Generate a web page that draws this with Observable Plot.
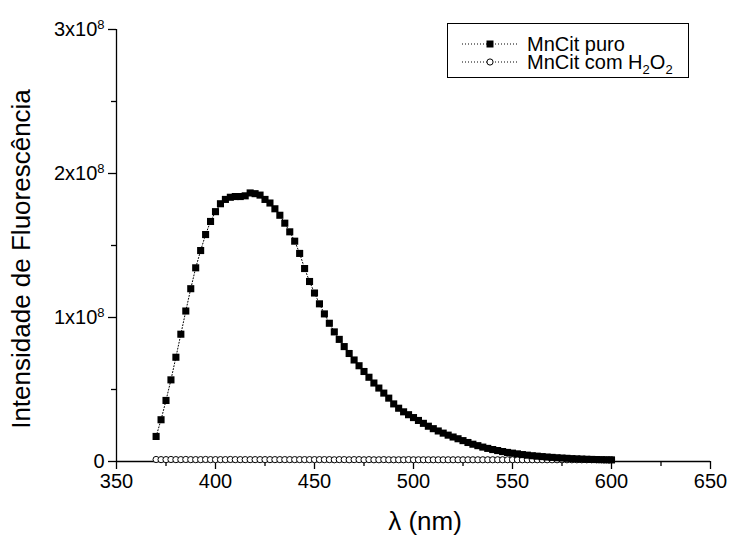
<!DOCTYPE html>
<html>
<head>
<meta charset="utf-8">
<script src="https://cdn.jsdelivr.net/npm/d3@7"></script>
<script src="https://cdn.jsdelivr.net/npm/@observablehq/plot@0.6"></script>
<style>
  html, body { margin: 0; padding: 0; background: #fff; }
  #chart { position: relative; width: 733px; height: 540px; }
</style>
</head>
<body>
<div id="chart"></div>
<script>
// wavelength (nm)
const lambda = [370, 372.5, 375, 377.5, 380, 382.5, 385, 387.5, 390, 392.5, 395, 397.5, 400, 402.5, 405, 407.5, 410, 412.5, 415, 417.5, 420, 422.5, 425, 427.5, 430, 432.5, 435, 437.5, 440, 442.5, 445, 447.5, 450, 452.5, 455, 457.5, 460, 462.5, 465, 467.5, 470, 472.5, 475, 477.5, 480, 482.5, 485, 487.5, 490, 492.5, 495, 497.5, 500, 502.5, 505, 507.5, 510, 512.5, 515, 517.5, 520, 522.5, 525, 527.5, 530, 532.5, 535, 537.5, 540, 542.5, 545, 547.5, 550, 552.5, 555, 557.5, 560, 562.5, 565, 567.5, 570, 572.5, 575, 577.5, 580, 582.5, 585, 587.5, 590, 592.5, 595, 597.5, 600];

// intensity, units of 10^6
const mncitPuro = [17.4, 29, 42.4, 56.7, 72.4, 88.4, 104.5, 120, 134.5, 146.5, 157.6, 166.7, 173.5, 179, 182, 183.5, 184, 184, 184.5, 186.5, 186, 185, 182, 179.5, 175.5, 171, 165.5, 159.5, 153, 144.5, 134, 125, 117, 109.5, 102.5, 96, 90, 84.8, 79.8, 75, 70.5, 66.5, 62.5, 58.5, 54.5, 51, 47.5, 44, 40, 37, 34.5, 32.5, 30.5, 28.5, 26.5, 24.5, 22.8, 21.2, 19.7, 18.3, 17, 15.8, 14.5, 13.2, 12, 11, 10, 9.1, 8.3, 7.6, 6.9, 6.3, 5.8, 5.3, 4.8, 4.4, 4, 3.7, 3.4, 3.1, 2.85, 2.6, 2.4, 2.2, 2.0, 1.85, 1.7, 1.55, 1.45, 1.35, 1.25, 1.15, 1.1];

const mncitH2O2 = [1.4, 1.3, 1.3, 1.4, 1.3, 1.3, 1.4, 1.3, 1.3, 1.3, 1.4, 1.3, 1.3, 1.3, 1.3, 1.4, 1.3, 1.3, 1.3, 1.3, 1.3, 1.3, 1.3, 1.3, 1.3, 1.3, 1.3, 1.3, 1.3, 1.3, 1.3, 1.3, 1.3, 1.3, 1.3, 1.3, 1.2, 1.3, 1.3, 1.2, 1.3, 1.3, 1.2, 1.3, 1.2, 1.2, 1.3, 1.2, 1.2, 1.2, 1.2, 1.3, 1.2, 1.2, 1.2, 1.2, 1.2, 1.2, 1.2, 1.2, 1.2, 1.2, 1.2, 1.2, 1.2, 1.2, 1.2, 1.2, 1.2, 1.2, 1.2, 1.2, 1.2, 1.2, 1.2, 1.2, 1.2, 1.2, 1.2, 1.2, 1.2, 1.2, 1.2, 1.2, 1.2, 1.2, 1.2, 1.2, 1.2, 1.2, 1.2, 1.2, 1.2];

const xTicks = [350, 400, 450, 500, 550, 600, 650];
const xMinorTicks = [375, 425, 475, 525, 575, 625];
const yTicks = [0, 100, 200, 300];
const yTickLabels = ["0", "1x10", "2x10", "3x10"];
const yMinorTicks = [50, 150, 250];
const seriesNames = ["MnCit puro", "MnCit com H"];

const puroData = lambda.map((l, i) => ({l, v: mncitPuro[i]}));
const h2o2Data = lambda.map((l, i) => ({l, v: mncitH2O2[i]}));

const FONT = "'Liberation Sans', Arial, Helvetica, sans-serif";

const chart = Plot.plot({
  width: 733,
  height: 540,
  marginLeft: 116,
  marginRight: 23,
  marginTop: 29,
  marginBottom: 79,
  style: {fontFamily: FONT, fontSize: "20px", color: "black", background: "white", overflow: "visible"},
  x: {domain: [350, 650]},
  y: {domain: [0, 300]},
  marks: [
    Plot.axisX({ticks: xTicks, tickSize: 8, tickPadding: 4, tickFormat: d => String(d), fontSize: 20, label: null, strokeWidth: 1.3}),
    Plot.axisX({ticks: xMinorTicks, tickSize: 5, tickFormat: () => "", label: null, strokeWidth: 1.3}),
    Plot.axisY({ticks: yTicks, tickSize: 8, tickPadding: 4, tickFormat: d => yTickLabels[yTicks.indexOf(d)], fontSize: 20, label: null, strokeWidth: 1.3}),
    Plot.axisY({ticks: yMinorTicks, tickSize: 5, tickFormat: () => "", label: null, strokeWidth: 1.3}),
    Plot.ruleX([350], {stroke: "black", strokeWidth: 1.3}),
    Plot.ruleY([0], {stroke: "black", strokeWidth: 1.3}),
    Plot.line(h2o2Data, {x: "l", y: "v", stroke: "black", strokeWidth: 1, strokeDasharray: "1,2"}),
    Plot.dot(h2o2Data, {x: "l", y: "v", symbol: "circle", r: 3.1, stroke: "black", strokeWidth: 1, fill: "white"}),
    Plot.line(puroData, {x: "l", y: "v", stroke: "black", strokeWidth: 1, strokeDasharray: "1,2"}),
    Plot.dot(puroData, {x: "l", y: "v", symbol: "square", r: 4, fill: "black", stroke: "none"})
  ]
});

document.getElementById("chart").appendChild(chart);

const svg = d3.select(chart);

// superscripts on y tick labels
svg.selectAll('g[aria-label="y-axis tick label"] text').each(function() {
  const t = d3.select(this);
  const s = t.text();
  if (s.endsWith("x10")) {
    t.append("tspan").attr("dy", "-0.55em").attr("font-size", "13px").text("8");
  }
});

// axis titles
svg.append("text")
  .attr("transform", "translate(30,259) rotate(-90)")
  .attr("text-anchor", "middle")
  .attr("font-size", 26)
  .attr("font-family", FONT)
  .attr("fill", "black")
  .text("Intensidade de Fluorescência");

svg.append("text")
  .attr("x", 425)
  .attr("y", 530)
  .attr("text-anchor", "middle")
  .attr("font-size", 26)
  .attr("font-family", FONT)
  .attr("fill", "black")
  .text("λ (nm)");

// legend
const lg = svg.append("g").attr("font-family", FONT).attr("font-size", 20).attr("text-anchor", "start");
lg.append("rect").attr("x", 447.5).attr("y", 23.5).attr("width", 241).attr("height", 54)
  .attr("fill", "white").attr("stroke", "black").attr("stroke-width", 1);
const rows = [44, 62];
rows.forEach((yy, i) => {
  lg.append("line").attr("x1", 462).attr("x2", 518).attr("y1", yy).attr("y2", yy)
    .attr("stroke", "black").attr("stroke-width", 1).attr("stroke-dasharray", "1,2");
  if (i === 0) {
    lg.append("rect").attr("x", 486.5).attr("y", yy - 3.5).attr("width", 7).attr("height", 7).attr("fill", "black");
  } else {
    lg.append("circle").attr("cx", 490).attr("cy", yy).attr("r", 3.1).attr("fill", "white").attr("stroke", "black");
  }
});
lg.append("text").attr("x", 527).attr("y", 44).attr("dy", "0.35em").attr("text-anchor", "start").text(seriesNames[0]);
const t2 = lg.append("text").attr("x", 527).attr("y", 62).attr("dy", "0.35em").attr("text-anchor", "start");
t2.append("tspan").text(seriesNames[1]);
t2.append("tspan").attr("font-size", 13).attr("dy", 5).text("2");
t2.append("tspan").attr("dy", -5).text("O");
t2.append("tspan").attr("font-size", 13).attr("dy", 5).text("2");
</script>
</body>
</html>
